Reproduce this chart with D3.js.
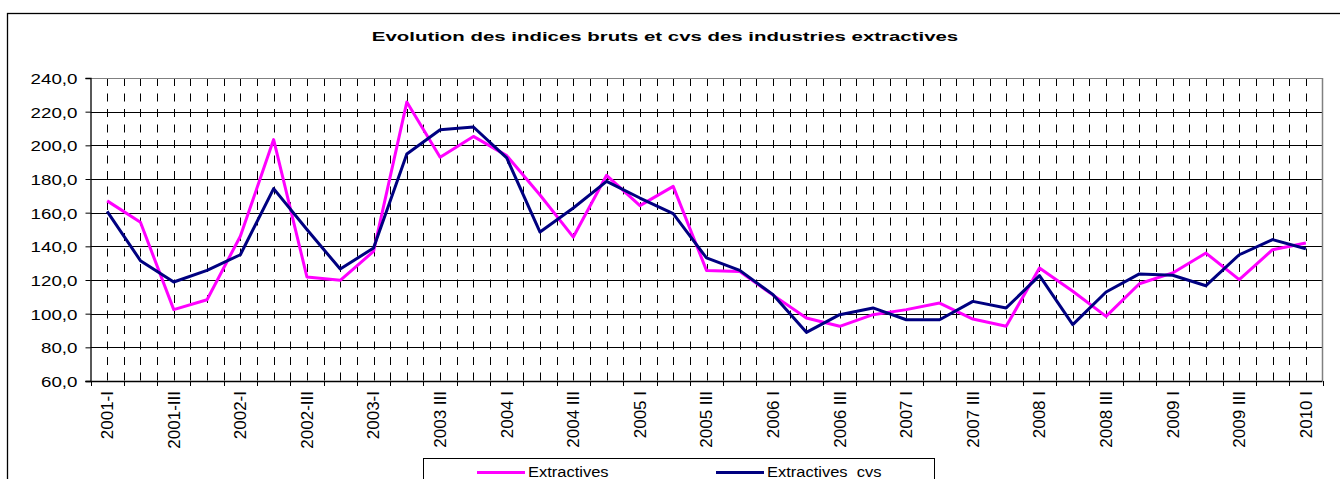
<!DOCTYPE html>
<html><head><meta charset="utf-8">
<script src="https://cdn.jsdelivr.net/npm/d3@7"></script>
<style>body{margin:0;background:#fff}svg{display:block}text{font-family:Arial,"Liberation Sans",sans-serif;fill:#000}</style>
</head><body><svg id="c" width="1340" height="479"></svg>
<script>
const categories = [
 "2001-I","2001-II","2001-III","2001-IV",
 "2002-I","2002-II","2002-III","2002-IV",
 "2003-I","2003 II","2003 III","2003 IV",
 "2004 I","2004 II","2004 III","2004 IV",
 "2005 I","2005 II","2005 III","2005 IV",
 "2006 I","2006 II","2006 III","2006 IV",
 "2007 I","2007 II","2007 III","2007 IV",
 "2008 I","2008 II","2008 III","2008 IV",
 "2009 I","2009 II","2009 III","2009 IV",
 "2010 I"];
const tickLabels = ["2001-I","2001-III","2002-I","2002-III","2003-I","2003 III","2004 I","2004 III","2005 I","2005 III","2006 I","2006 III","2007 I","2007 III","2008 I","2008 III","2009 I","2009 III","2010 I"];
const extractives = [167,154.3,102.4,108.3,146,203.4,121.8,119.8,137,225.7,192.9,205.3,193.9,170.5,145.5,182.2,164.2,175.6,125.7,125,111,97.4,92.5,99.4,102.4,106.3,96.8,92.5,127.1,113.3,98.4,117.8,124.2,136,120.2,138,142];
const extractivesCvs = [160.8,131.5,118.8,125.7,135,174.3,150,126.5,139,194.9,209.3,210.9,192.5,148.5,162.8,178.6,168.7,159.4,133.1,125.7,111.3,88.9,99.4,103.4,96.4,96.4,107.3,103.4,122.6,93.5,112.9,123.6,122.8,116.6,135,144,138.6];
const yTicks = [60,80,100,120,140,160,180,200,220,240];
const seriesNames = ["Extractives","Extractives  cvs"];
const seriesColors = ["#FF00FF","#000080"];
const title = "Evolution des indices bruts et cvs des industries extractives";

const svg = d3.select("#c");
const P = {l:90.5, r:1322.5, t:78, b:381};

// outer chart frame
svg.append("rect").attr("x",7.5).attr("y",13.5).attr("width",1400).attr("height",600)
  .attr("fill","#fff").attr("stroke","#000").attr("stroke-width",1.3);

const x = d3.scaleBand().domain(categories).range([P.l, P.r]);
const bw = x.bandwidth();
const y = d3.scaleLinear().domain([60,240]).range([P.b, P.t]);
const cx = c => x(c) + bw/2;

// vertical dashed gridlines (band centers and boundaries)
const vpos = [];
categories.forEach((c,i)=>{ if(i>0) vpos.push(x(c)); vpos.push(cx(c)); });
svg.append("g").selectAll("line").data(vpos).join("line")
  .attr("x1",d=>Math.round(d)+0.5).attr("x2",d=>Math.round(d)+0.5)
  .attr("y1",P.t).attr("y2",P.b)
  .attr("stroke","#000").attr("stroke-width",1).attr("stroke-dasharray","8,7.5");

// horizontal gridlines
svg.append("g").selectAll("line").data(yTicks.filter(v=>v>60 && v<240)).join("line")
  .attr("x1",P.l).attr("x2",P.r)
  .attr("y1",d=>Math.round(y(d))+0.5).attr("y2",d=>Math.round(y(d))+0.5)
  .attr("stroke","#000").attr("stroke-width",1);

// plot top & right border (gray)
svg.append("line").attr("x1",P.l).attr("x2",P.r).attr("y1",P.t+0.5).attr("y2",P.t+0.5).attr("stroke","#808080");
svg.append("line").attr("x1",P.r).attr("x2",P.r).attr("y1",P.t).attr("y2",P.b).attr("stroke","#808080").attr("stroke-width",1.5);

// y axis
const yAxis = svg.append("g").attr("transform",`translate(${P.l},0)`)
  .call(d3.axisLeft(y).tickValues(yTicks).tickSize(5).tickPadding(5.4)
    .tickFormat(d=>d.toFixed(1).replace(".",",")));
yAxis.select(".domain").attr("stroke","#000").attr("stroke-width",1.3);
yAxis.selectAll(".tick line").attr("stroke","#000");
yAxis.selectAll(".tick text").attr("font-size","15px").attr("font-family","Arial, 'Liberation Sans', sans-serif")
  .attr("fill","#000").attr("transform","scale(1.25,1)").attr("dy","0.36em");

// x axis line and ticks at band boundaries
svg.append("line").attr("x1",P.l-5).attr("x2",P.r).attr("y1",P.b+0.5).attr("y2",P.b+0.5).attr("stroke","#000").attr("stroke-width",1.3);
const bounds = categories.map(c=>x(c)).concat([P.r]);
svg.append("g").selectAll("line").data(bounds).join("line")
  .attr("x1",d=>Math.round(d)+0.5).attr("x2",d=>Math.round(d)+0.5)
  .attr("y1",P.b).attr("y2",P.b+5).attr("stroke","#000");

// x labels
const xAxis = svg.append("g").attr("transform",`translate(0,${P.b})`)
  .call(d3.axisBottom(x).tickValues(tickLabels).tickSize(0));
xAxis.select(".domain").remove();
xAxis.selectAll(".tick text").attr("font-size","17px").attr("font-family","Arial, 'Liberation Sans', sans-serif")
  .attr("fill","#000").attr("text-anchor","end").attr("y",0).attr("x",-10).attr("dy","0.35em")
  .attr("transform","rotate(-90)");

// lines
const line = d3.line().x((d,i)=>cx(categories[i])).y(d=>y(d));
[extractives, extractivesCvs].forEach((s,k)=>{
  svg.append("path").datum(s).attr("d",line).attr("fill","none")
    .attr("stroke",seriesColors[k]).attr("stroke-width",3).attr("stroke-linejoin","round");
});

// title
svg.append("text").attr("transform","translate(665,41) scale(1.57,1)")
  .attr("text-anchor","middle").attr("font-weight","bold").attr("font-size","13px").text(title);

// legend
const lg = svg.append("g");
lg.append("rect").attr("x",423.5).attr("y",458.5).attr("width",511).attr("height",40)
  .attr("fill","#fff").attr("stroke","#000").attr("stroke-width",1);
const lx = [477, 716];
seriesNames.forEach((n,k)=>{
  lg.append("line").attr("x1",lx[k]).attr("x2",lx[k]+48).attr("y1",472.5).attr("y2",472.5)
    .attr("stroke",seriesColors[k]).attr("stroke-width",3);
  lg.append("text").attr("transform",`translate(${lx[k]+51},477) scale(1.1,1)`).attr("font-size","15px")
    .attr("xml:space","preserve").text(n);
});
</script></body></html>
